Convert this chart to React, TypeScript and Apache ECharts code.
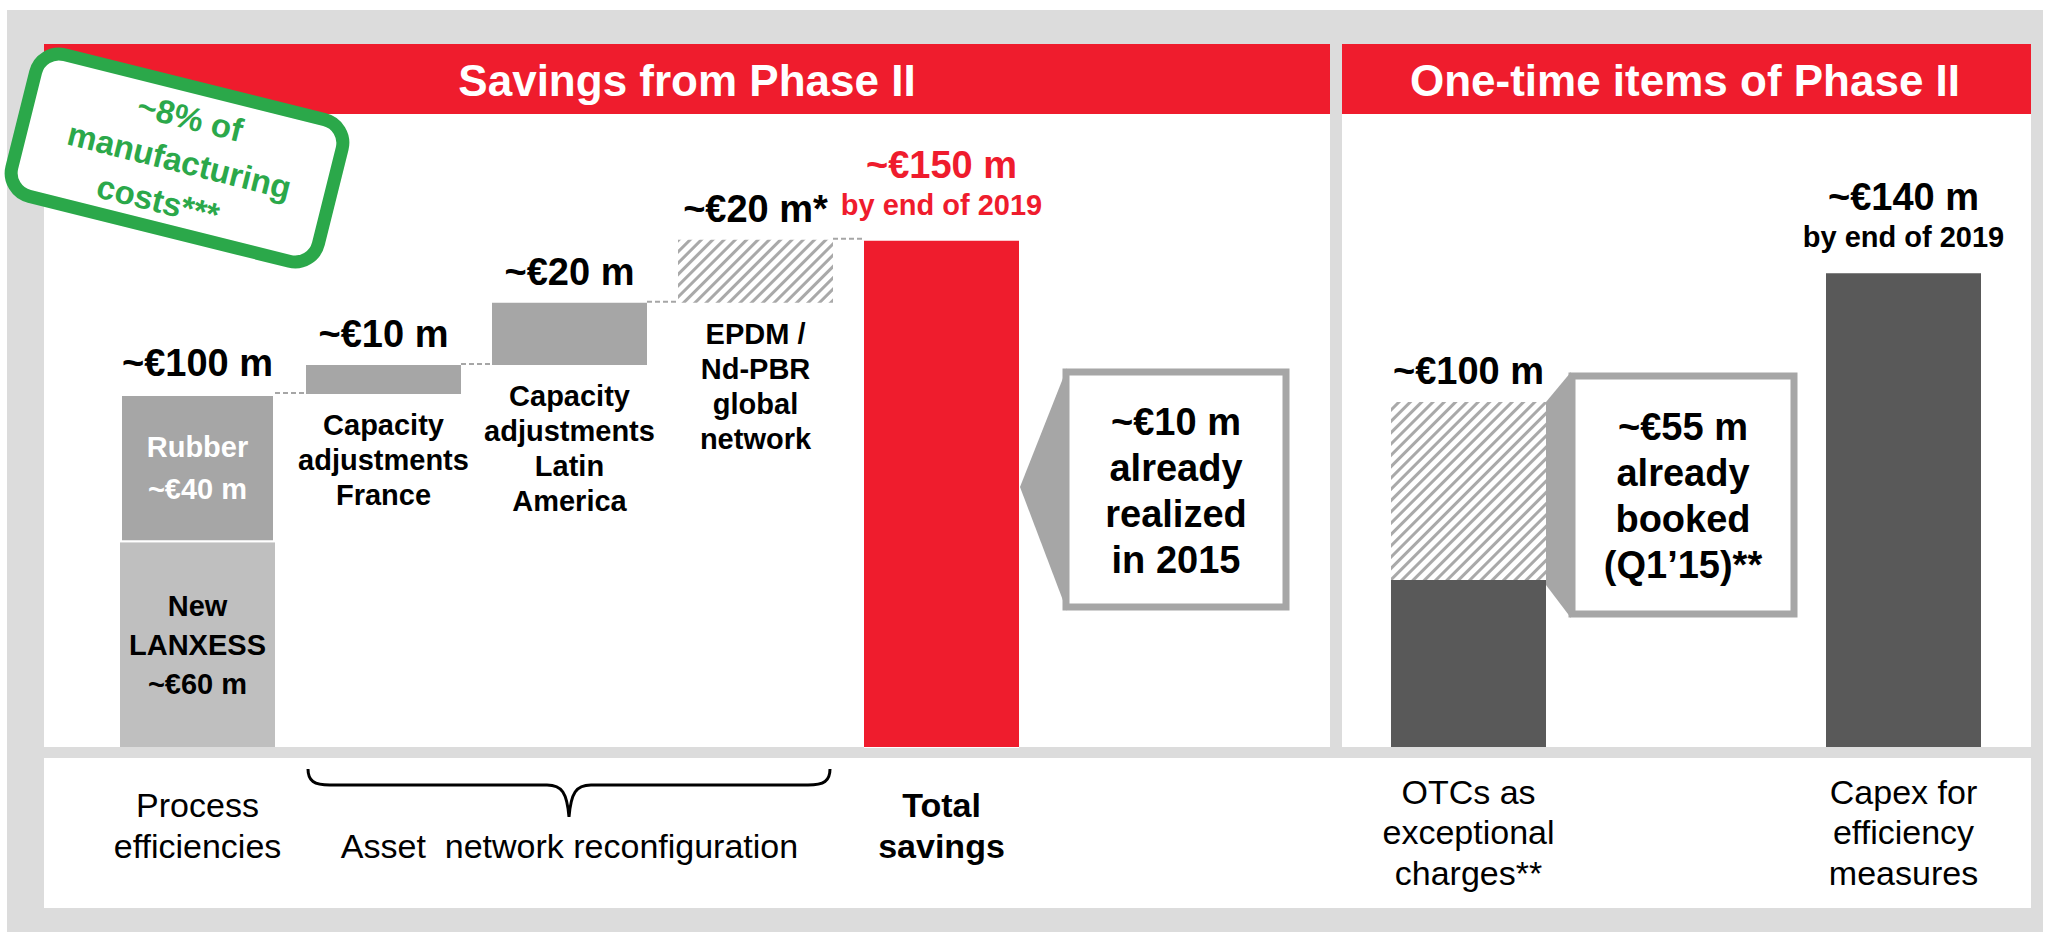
import React, { useEffect, useRef } from "react";
import * as echarts from "echarts";

// ---------- DATA ----------
const leftCategories = [
  "Process efficiencies",
  "Capacity adjustments France",
  "Capacity adjustments Latin America",
  "EPDM / Nd-PBR global network",
  "Total savings",
];
const newLanxessValues = [60.7, 0, 0, 0, 0];
const rubberValues = [43.9, 0, 0, 0, 0];
const solidStepValues = [0, 8.6, 18.4, 0, 0];
const hatchedStepValues = [0, 0, 0, 18.7, 0];
const totalValues = [0, 0, 0, 0, 150];
const leftTopLabels = ["~€100 m", "~€10 m", "~€20 m", "~€20 m*", "~€150 m"];
const leftTopSubLabels = ["", "", "", "", "by end of 2019"];
const stepInnerLabels = [
  "",
  "Capacity\nadjustments\nFrance",
  "Capacity\nadjustments\nLatin\nAmerica",
  "EPDM /\nNd-PBR\nglobal\nnetwork",
  "",
];
const leftAxisLabels = ["Process\nefficiencies", "", "\u00a0\nAsset  network reconfiguration", "", "Total\nsavings"];
const leftAxisBold = [false, false, false, false, true];

const rightCategories = ["OTCs as exceptional charges**", "", "Capex for efficiency measures"];
const bookedValues = [49.5, 0, 140.4];
const pendingValues = [52.7, 0, 0];
const rightTopLabels = ["~€100 m", "", "~€140 m"];
const rightTopSubLabels = ["", "", "by end of 2019"];
const rightAxisLabels = ["OTCs as\nexceptional\ncharges**", "", "Capex for\nefficiency\nmeasures"];

const rubberLabel = "Rubber\n~€40 m";
const lanxessLabel = "New\nLANXESS\n~€60 m";
const calloutTexts = ["~€10 m\nalready\nrealized\nin 2015", "~€55 m\nalready\nbooked\n(Q1’15)**"];
const panelTitles = ["Savings from Phase II", "One-time items of Phase II"];
const stampLines = ["~8% of", "manufacturing", "costs***"];

// ---------- STYLE ----------
const FONT = '"Liberation Sans", Arial, Helvetica, sans-serif';
const RED = "#EF1C2D";
const GRAY_BG = "#DCDCDC";
const MID_GRAY = "#A6A6A6";
const LIGHT_GRAY = "#BFBFBF";
const DARK_GRAY = "#595959";
const GREEN = "#2BA84A";
const BAR_W = 155;

const hatchDecal = {
  symbol: "rect",
  symbolSize: 1,
  color: "#A9A9A9",
  dashArrayX: [1, 0],
  dashArrayY: [3, 5],
  rotation: -Math.PI / 4,
};

let braceRegistered = false;
function registerBrace() {
  if (braceRegistered) return;
  braceRegistered = true;
  const d =
    "M0,0 C0,12 6,16 22,16 L239,16 C254,16 259,24 261,48 C263,24 268,16 283,16 L500,16 C516,16 522,12 522,0";
  echarts.graphic.registerShape("brace", echarts.graphic.extendPath(d, {}) as any);
}

function buildOption() {
  // waterfall bases & tops from the data
  let running = 0;
  const baseValues: number[] = [];
  const leftTops: number[] = [];
  leftCategories.forEach((_, i) => {
    const seg = newLanxessValues[i] + rubberValues[i];
    const step = solidStepValues[i] + hatchedStepValues[i];
    if (seg > 0) {
      baseValues.push(0);
      running = seg;
      leftTops.push(seg);
    } else if (step > 0) {
      baseValues.push(running);
      running += step;
      leftTops.push(running);
    } else {
      baseValues.push(0);
      leftTops.push(totalValues[i]);
    }
  });
  const rightTops = bookedValues.map((v, i) => v + pendingValues[i]);

  const labelSeries = (axis: number, tops: number[], mains: string[], subs: string[], colors: string[]) => ({
    type: "custom",
    xAxisIndex: axis,
    yAxisIndex: axis,
    clip: false,
    silent: true,
    z: 10,
    data: tops.map((v, i) => [i, v]),
    renderItem: (params: any, api: any) => {
      const i = params.dataIndex;
      const p = api.coord([api.value(0), api.value(1)]);
      const main = mains[i];
      const sub = subs[i];
      const children: any[] = [];
      if (main) {
        children.push({
          type: "text",
          x: p[0],
          y: sub ? p[1] - 76 : p[1] - 31,
          style: {
            text: main,
            fill: colors[i],
            fontSize: 38,
            fontWeight: "bold",
            fontFamily: FONT,
            align: "center",
            verticalAlign: "middle",
          },
        });
      }
      if (sub) {
        children.push({
          type: "text",
          x: p[0],
          y: p[1] - 36,
          style: {
            text: sub,
            fill: colors[i],
            fontSize: 29,
            fontWeight: "bold",
            fontFamily: FONT,
            align: "center",
            verticalAlign: "middle",
          },
        });
      }
      return { type: "group", children };
    },
  });

  const connectorSeries = {
    type: "custom",
    xAxisIndex: 0,
    yAxisIndex: 0,
    clip: false,
    silent: true,
    z: 3,
    data: leftTops.slice(0, leftTops.length - 1).map((v, i) => [i, v]),
    renderItem: (params: any, api: any) => {
      const i = api.value(0);
      const v = api.value(1);
      const a = api.coord([i, v]);
      const b = api.coord([i + 1, v]);
      return {
        type: "line",
        shape: { x1: a[0] + BAR_W / 2, y1: a[1] - 1, x2: b[0] - BAR_W / 2, y2: a[1] - 1 },
        style: { stroke: "#A6A6A6", lineWidth: 2, lineDash: [5, 3] },
      };
    },
  };

  const axisLabelBase = {
    interval: 0,
    verticalAlign: "middle",
    fontFamily: FONT,
    fontSize: 34,
    color: "#000",
  };

  const graphics: any[] = [
    // backgrounds
    { type: "rect", z: -10, shape: { x: 7, y: 10, width: 2036, height: 922 }, style: { fill: GRAY_BG } },
    { type: "rect", z: -9, shape: { x: 44, y: 44, width: 1286, height: 703 }, style: { fill: "#fff" } },
    { type: "rect", z: -9, shape: { x: 1342, y: 44, width: 689, height: 703 }, style: { fill: "#fff" } },
    { type: "rect", z: -9, shape: { x: 44, y: 758, width: 1987, height: 150 }, style: { fill: "#fff" } },
    { type: "rect", z: -8, shape: { x: 44, y: 44, width: 1286, height: 70 }, style: { fill: RED } },
    { type: "rect", z: -8, shape: { x: 1342, y: 44, width: 689, height: 70 }, style: { fill: RED } },
    {
      type: "text",
      z: 5,
      x: 687,
      y: 80,
      style: {
        text: panelTitles[0],
        fill: "#fff",
        fontSize: 44,
        fontWeight: "bold",
        fontFamily: FONT,
        align: "center",
        verticalAlign: "middle",
      },
    },
    {
      type: "text",
      z: 5,
      x: 1685,
      y: 80,
      style: {
        text: panelTitles[1],
        fill: "#fff",
        fontSize: 44,
        fontWeight: "bold",
        fontFamily: FONT,
        align: "center",
        verticalAlign: "middle",
      },
    },
    // brace
    { type: "brace", z: 5, x: 308, y: 769, style: { fill: "none", stroke: "#000", lineWidth: 3 } },
    // callout 1
    {
      type: "polygon",
      z: 20,
      shape: { points: [[1020, 487], [1067, 368], [1067, 611]] },
      style: { fill: MID_GRAY },
    },
    {
      type: "rect",
      z: 21,
      shape: { x: 1066, y: 372, width: 220, height: 235 },
      style: { fill: "#fff", stroke: MID_GRAY, lineWidth: 7 },
    },
    {
      type: "text",
      z: 22,
      x: 1176,
      y: 491,
      style: {
        text: calloutTexts[0],
        fill: "#000",
        fontSize: 38,
        fontWeight: "bold",
        fontFamily: FONT,
        align: "center",
        verticalAlign: "middle",
        lineHeight: 46,
      },
    },
    // callout 2
    {
      type: "polygon",
      z: 20,
      shape: { points: [[1546, 402], [1571, 372], [1571, 618], [1546, 585]] },
      style: { fill: MID_GRAY },
    },
    {
      type: "rect",
      z: 21,
      shape: { x: 1572, y: 376, width: 222, height: 238 },
      style: { fill: "#fff", stroke: MID_GRAY, lineWidth: 7 },
    },
    {
      type: "text",
      z: 22,
      x: 1683,
      y: 496,
      style: {
        text: calloutTexts[1],
        fill: "#000",
        fontSize: 38,
        fontWeight: "bold",
        fontFamily: FONT,
        align: "center",
        verticalAlign: "middle",
        lineHeight: 46,
      },
    },
    // stamp
    {
      type: "group",
      z: 50,
      x: 177,
      y: 158,
      rotation: (-14 * Math.PI) / 180,
      children: [
        {
          type: "rect",
          z: 50,
          shape: { x: -158, y: -73, width: 316, height: 146, r: 24 },
          style: { fill: "#fff", stroke: GREEN, lineWidth: 13 },
        },
        ...stampLines.map((t, k) => ({
          type: "text",
          z: 51,
          x: k === 2 ? -8 : 3,
          y: -42 + k * 44,
          style: {
            text: t,
            fill: GREEN,
            fontSize: 33,
            fontWeight: "bold",
            fontFamily: FONT,
            align: "center",
            verticalAlign: "middle",
          },
        })),
      ],
    },
  ];

  return {
    animation: false,
    backgroundColor: "#fff",
    graphic: { elements: graphics },
    grid: [
      { left: 104.5, width: 930, top: 207, height: 540 },
      { left: 1359.75, width: 652.5, top: 207, height: 540 },
    ],
    xAxis: [
      {
        type: "category",
        gridIndex: 0,
        data: leftCategories,
        axisLine: { show: false },
        axisTick: { show: false },
        axisLabel: {
          ...axisLabelBase,
          margin: 78,
          lineHeight: 41,
          formatter: (_v: string, i: number) =>
            leftAxisBold[i]
              ? leftAxisLabels[i]
                  .split("\n")
                  .map((s) => `{b|${s}}`)
                  .join("\n")
              : leftAxisLabels[i],
          rich: {
            b: { fontWeight: "bold", fontSize: 34, lineHeight: 41, fontFamily: FONT, color: "#000" },
          },
        },
      },
      {
        type: "category",
        gridIndex: 1,
        data: rightCategories,
        axisLine: { show: false },
        axisTick: { show: false },
        axisLabel: {
          ...axisLabelBase,
          margin: 85,
          lineHeight: 40.5,
          formatter: (_v: string, i: number) => rightAxisLabels[i],
        },
      },
    ],
    yAxis: [
      { type: "value", gridIndex: 0, min: 0, max: 160, show: false },
      { type: "value", gridIndex: 1, min: 0, max: 160, show: false },
    ],
    series: [
      {
        name: "base",
        type: "bar",
        stack: "L",
        barWidth: BAR_W,
        silent: true,
        itemStyle: { color: "rgba(0,0,0,0)" },
        data: baseValues,
      },
      {
        name: "New LANXESS",
        type: "bar",
        stack: "L",
        barWidth: BAR_W,
        itemStyle: { color: LIGHT_GRAY },
        data: newLanxessValues.map((v, i) => ({
          value: v,
          label:
            i === 0
              ? {
                  show: true,
                  position: "inside",
                  formatter: lanxessLabel,
                  color: "#000",
                  fontSize: 29,
                  fontWeight: "bold",
                  fontFamily: FONT,
                  lineHeight: 39,
                }
              : { show: false },
        })),
      },
      {
        name: "Rubber",
        type: "bar",
        stack: "L",
        barWidth: BAR_W,
        itemStyle: { color: MID_GRAY, borderColor: "#fff", borderWidth: 2 },
        data: rubberValues.map((v, i) => ({
          value: v,
          label:
            i === 0
              ? {
                  show: true,
                  position: "inside",
                  formatter: rubberLabel,
                  color: "#fff",
                  fontSize: 29,
                  fontWeight: "bold",
                  fontFamily: FONT,
                  lineHeight: 42,
                }
              : { show: false },
        })),
      },
      {
        name: "Capacity adjustments",
        type: "bar",
        stack: "L",
        barWidth: BAR_W,
        itemStyle: { color: MID_GRAY },
        data: solidStepValues.map((v, i) => ({
          value: v,
          label:
            v > 0
              ? {
                  show: true,
                  position: "bottom",
                  distance: 14,
                  formatter: stepInnerLabels[i],
                  color: "#000",
                  fontSize: 29,
                  fontWeight: "bold",
                  fontFamily: FONT,
                  lineHeight: 35,
                }
              : { show: false },
        })),
      },
      {
        name: "EPDM / Nd-PBR",
        type: "bar",
        stack: "L",
        barWidth: BAR_W,
        itemStyle: { color: "#fff", decal: hatchDecal },
        data: hatchedStepValues.map((v, i) => ({
          value: v,
          label:
            v > 0
              ? {
                  show: true,
                  position: "bottom",
                  distance: 14,
                  formatter: stepInnerLabels[i],
                  color: "#000",
                  fontSize: 29,
                  fontWeight: "bold",
                  fontFamily: FONT,
                  lineHeight: 35,
                }
              : { show: false },
        })),
      },
      {
        name: "Total savings",
        type: "bar",
        stack: "L",
        barWidth: BAR_W,
        itemStyle: { color: RED },
        data: totalValues,
      },
      connectorSeries,
      labelSeries(0, leftTops, leftTopLabels, leftTopSubLabels, ["#000", "#000", "#000", "#000", RED]),
      {
        name: "Booked",
        type: "bar",
        xAxisIndex: 1,
        yAxisIndex: 1,
        stack: "R",
        barWidth: BAR_W,
        itemStyle: { color: DARK_GRAY },
        data: bookedValues,
      },
      {
        name: "Pending",
        type: "bar",
        xAxisIndex: 1,
        yAxisIndex: 1,
        stack: "R",
        barWidth: BAR_W,
        itemStyle: { color: "#fff", decal: hatchDecal },
        data: pendingValues,
      },
      labelSeries(1, rightTops, rightTopLabels, rightTopSubLabels, ["#000", "#000", "#000"]),
    ],
  };
}

export default function App() {
  const ref = useRef<HTMLDivElement>(null);
  useEffect(() => {
    if (!ref.current) return;
    registerBrace();
    const chart = echarts.init(ref.current, null, { renderer: "svg" });
    chart.setOption(buildOption() as any);
    return () => {
      chart.dispose();
    };
  }, []);
  return (
    <div
      ref={ref}
      style={{ position: "absolute", left: 0, top: 0, width: 2049, height: 935, background: "#fff" }}
    />
  );
}
